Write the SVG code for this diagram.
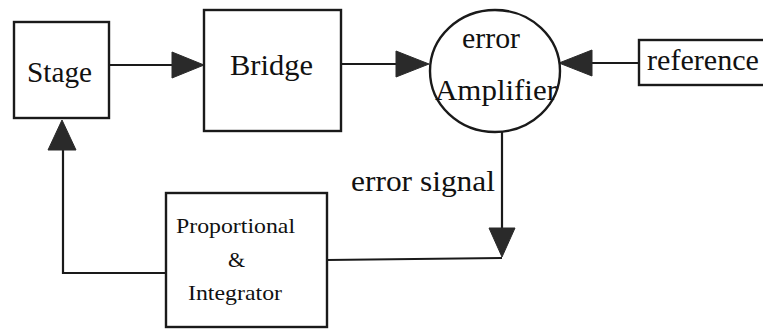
<svg xmlns="http://www.w3.org/2000/svg" width="763" height="330" viewBox="0 0 763 330">
<style>
.box{fill:#fff;stroke:#1a1a1a;stroke-width:2.4}
.ln{fill:none;stroke:#1a1a1a;stroke-width:2.2}
.ah{fill:#2a2a2a;stroke:#2a2a2a;stroke-width:1;stroke-linejoin:round}
.t{font-family:"Liberation Serif","Times New Roman",Times,serif;fill:#111}
.big{font-size:29px}
.small{font-size:22px}
</style>
<rect width="763" height="330" fill="#fff"/>
<g id="connectors">
<line class="ln" x1="109" y1="65" x2="174" y2="65"/>
<polygon class="ah" points="172,52 204,65 172,78"/>
<line class="ln" x1="341" y1="64" x2="397" y2="64"/>
<polygon class="ah" points="396,51 429,64 396,77"/>
<line class="ln" x1="639" y1="63" x2="590" y2="63"/>
<polygon class="ah" points="592,50 559,63 592,76"/>
<line class="ln" x1="502" y1="132" x2="502" y2="228"/>
<polygon class="ah" points="489,228 515,228 502,257"/>
<polyline class="ln" points="327,260 502,258"/>
<polyline class="ln" points="166,273 63,273 63,150"/>
<polygon class="ah" points="48,150 76,150 62,120"/>
</g>
<g id="stage">
<rect class="box" x="14" y="22" width="95" height="96"/>
<text class="t big" x="27" y="82" textLength="65" lengthAdjust="spacingAndGlyphs">Stage</text>
</g>
<g id="bridge">
<rect class="box" x="204" y="10" width="137" height="121"/>
<text class="t big" x="230" y="75" textLength="83" lengthAdjust="spacingAndGlyphs">Bridge</text>
</g>
<g id="amplifier">
<ellipse class="box" cx="495" cy="71" rx="65" ry="61"/>
<text class="t big" x="462" y="48" textLength="58" lengthAdjust="spacingAndGlyphs">error</text>
<text class="t big" x="435" y="100" textLength="122" lengthAdjust="spacingAndGlyphs">Amplifier</text>
</g>
<g id="reference">
<rect class="box" x="639" y="40" width="131" height="45"/>
<text class="t big" x="647" y="70" textLength="112" lengthAdjust="spacingAndGlyphs">reference</text>
</g>
<g id="pi">
<rect class="box" x="166" y="193" width="161" height="134"/>
<text class="t small" x="176" y="233" textLength="119" lengthAdjust="spacingAndGlyphs">Proportional</text>
<text class="t small" x="228" y="267">&amp;</text>
<text class="t small" x="188" y="300" textLength="94" lengthAdjust="spacingAndGlyphs">Integrator</text>
</g>
<text class="t big" x="351" y="191" textLength="144" lengthAdjust="spacingAndGlyphs">error signal</text>
</svg>
